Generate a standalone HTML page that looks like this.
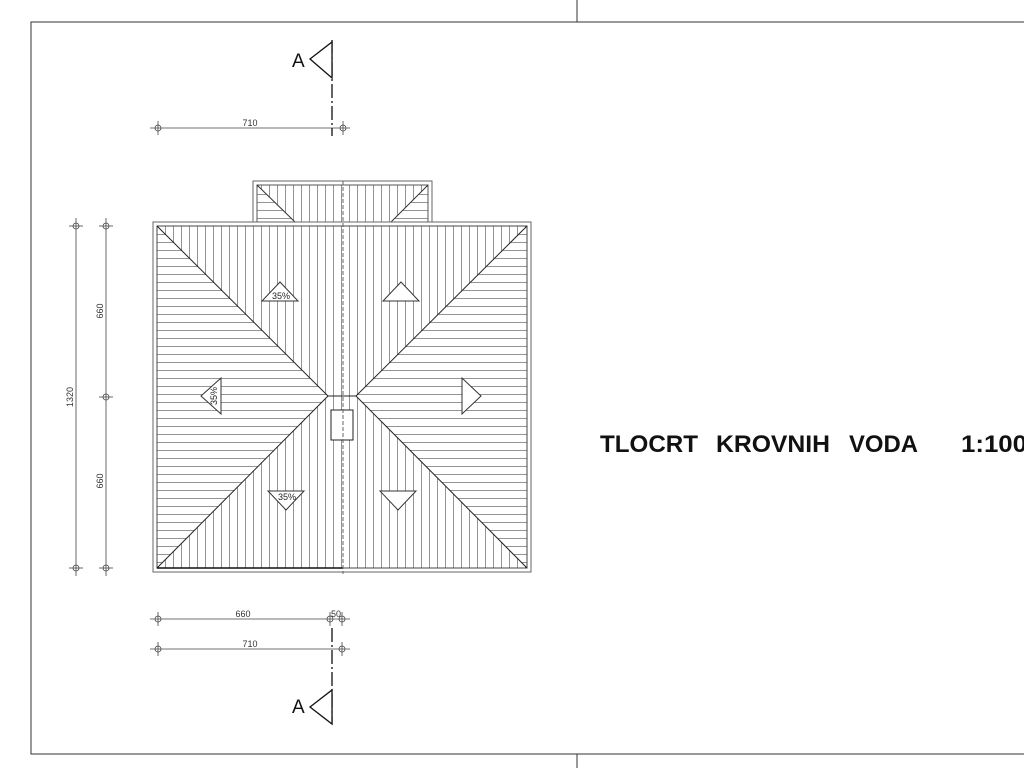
<!DOCTYPE html>
<html><head><meta charset="utf-8"><style>html,body{margin:0;padding:0;background:#fff}svg{display:block}</style></head>
<body>
<svg width="1024" height="768" viewBox="0 0 1024 768" xmlns="http://www.w3.org/2000/svg" font-family="Liberation Sans, sans-serif">
<defs>
<pattern id="v" width="8" height="8" patternUnits="userSpaceOnUse" x="157"><line x1="0.5" y1="0" x2="0.5" y2="8" stroke="#666" stroke-width="0.7"/></pattern>
<pattern id="h" width="8" height="8" patternUnits="userSpaceOnUse" y="226"><line x1="0" y1="0.5" x2="8" y2="0.5" stroke="#666" stroke-width="0.7"/></pattern>
</defs>
<g fill="none" stroke="#333" stroke-width="1">
<rect x="31" y="22" width="1000" height="732"/>
<line x1="577" y1="0" x2="577" y2="22"/><line x1="577" y1="754" x2="577" y2="768"/>
</g>
<rect x="253" y="181" width="179" height="41" fill="none" stroke="#666"/>
<polygon points="257,185 428,185 391,222 295,222" fill="url(#v)"/>
<polygon points="257,185 295,222 257,222" fill="url(#h)"/>
<polygon points="428,185 428,222 391,222" fill="url(#h)"/>
<rect x="257" y="185" width="171" height="37" fill="none" stroke="#555"/>
<line x1="257" y1="185" x2="295" y2="222" stroke="#333"/>
<line x1="428" y1="185" x2="391" y2="222" stroke="#333"/>
<rect x="153" y="222" width="378" height="350" fill="none" stroke="#666"/>
<polygon points="157,226 527,226 356,396 328,396" fill="url(#v)"/>
<polygon points="157,568 527,568 356,396 328,396" fill="url(#v)"/>
<polygon points="157,226 328,396 157,568" fill="url(#h)"/>
<polygon points="527,226 356,396 527,568" fill="url(#h)"/>
<rect x="157" y="226" width="370" height="342" fill="none" stroke="#444"/>
<line x1="157" y1="226" x2="328" y2="396" stroke="#222"/>
<line x1="527" y1="226" x2="356" y2="396" stroke="#222"/>
<line x1="157" y1="568" x2="328" y2="396" stroke="#222"/>
<line x1="527" y1="568" x2="356" y2="396" stroke="#222"/>
<line x1="328" y1="396" x2="356" y2="396" stroke="#222"/>
<line x1="157" y1="568" x2="343" y2="568" stroke="#111" stroke-width="1.5"/>
<rect x="331" y="410" width="22" height="30" fill="#fff" stroke="#222"/>
<line x1="343" y1="181" x2="343" y2="574" stroke="#666" stroke-dasharray="4,2"/>
<g fill="#fff" stroke="#333">
<polygon points="280,282 262,301 298,301"/>
<polygon points="401,282 383,301 419,301"/>
<polygon points="201,396 221,378 221,414"/>
<polygon points="481,396 462,378 462,414"/>
<polygon points="268,491 304,491 286,510"/>
<polygon points="380,491 416,491 398,510"/>
</g>
<g font-size="9" fill="#222" text-anchor="middle">
<text x="281" y="299">35%</text>
<text x="287" y="500">35%</text>
<text transform="translate(217,396) rotate(-90)">35%</text>
</g>
<g stroke="#444" stroke-width="0.8" fill="none">
<line x1="150" y1="128" x2="350" y2="128"/>
<line x1="150" y1="619" x2="350" y2="619"/>
<line x1="150" y1="649" x2="350" y2="649"/>
<line x1="76" y1="218" x2="76" y2="576"/>
<line x1="106" y1="218" x2="106" y2="576"/>
<circle cx="158" cy="128" r="3"/><line x1="158" y1="121" x2="158" y2="135"/>
<circle cx="343" cy="128" r="3"/><line x1="343" y1="121" x2="343" y2="135"/>
<circle cx="158" cy="619" r="3"/><line x1="158" y1="612" x2="158" y2="626"/>
<circle cx="330" cy="619" r="3"/><line x1="330" y1="612" x2="330" y2="626"/>
<circle cx="342" cy="619" r="3"/><line x1="342" y1="612" x2="342" y2="626"/>
<circle cx="158" cy="649" r="3"/><line x1="158" y1="642" x2="158" y2="656"/>
<circle cx="342" cy="649" r="3"/><line x1="342" y1="642" x2="342" y2="656"/>
<circle cx="76" cy="226" r="3"/><line x1="69" y1="226" x2="83" y2="226"/>
<circle cx="76" cy="568" r="3"/><line x1="69" y1="568" x2="83" y2="568"/>
<circle cx="106" cy="226" r="3"/><line x1="99" y1="226" x2="113" y2="226"/>
<circle cx="106" cy="397" r="3"/><line x1="99" y1="397" x2="113" y2="397"/>
<circle cx="106" cy="568" r="3"/><line x1="99" y1="568" x2="113" y2="568"/>
</g>
<g font-size="9" fill="#333" text-anchor="middle">
<text x="250" y="126">710</text>
<text x="243" y="617">660</text>
<text x="336" y="617">50</text>
<text x="250" y="647">710</text>
<text transform="translate(73,397) rotate(-90)">1320</text>
<text transform="translate(103,311) rotate(-90)">660</text>
<text transform="translate(103,481) rotate(-90)">660</text>
</g>
<g stroke="#111" stroke-width="1.3" fill="none">
<line x1="332" y1="40" x2="332" y2="136" stroke-dasharray="14,3,2,3"/>
<polygon points="310,59 332,42 332,78" fill="#fff"/>
<line x1="332" y1="628" x2="332" y2="724" stroke-dasharray="14,3,2,3"/>
<polygon points="310,707 332,690 332,724" fill="#fff"/>
</g>
<text x="292" y="67" font-size="19" fill="#111">A</text>
<text x="292" y="713" font-size="19" fill="#111">A</text>
<g font-size="24" font-weight="bold" fill="#111">
<text x="600" y="452" textLength="98" lengthAdjust="spacingAndGlyphs">TLOCRT</text>
<text x="716" y="452" textLength="114" lengthAdjust="spacingAndGlyphs">KROVNIH</text>
<text x="849" y="452" textLength="69" lengthAdjust="spacingAndGlyphs">VODA</text>
<text x="961" y="452" textLength="66" lengthAdjust="spacingAndGlyphs">1:100</text>
</g>
</svg>
</body></html>
